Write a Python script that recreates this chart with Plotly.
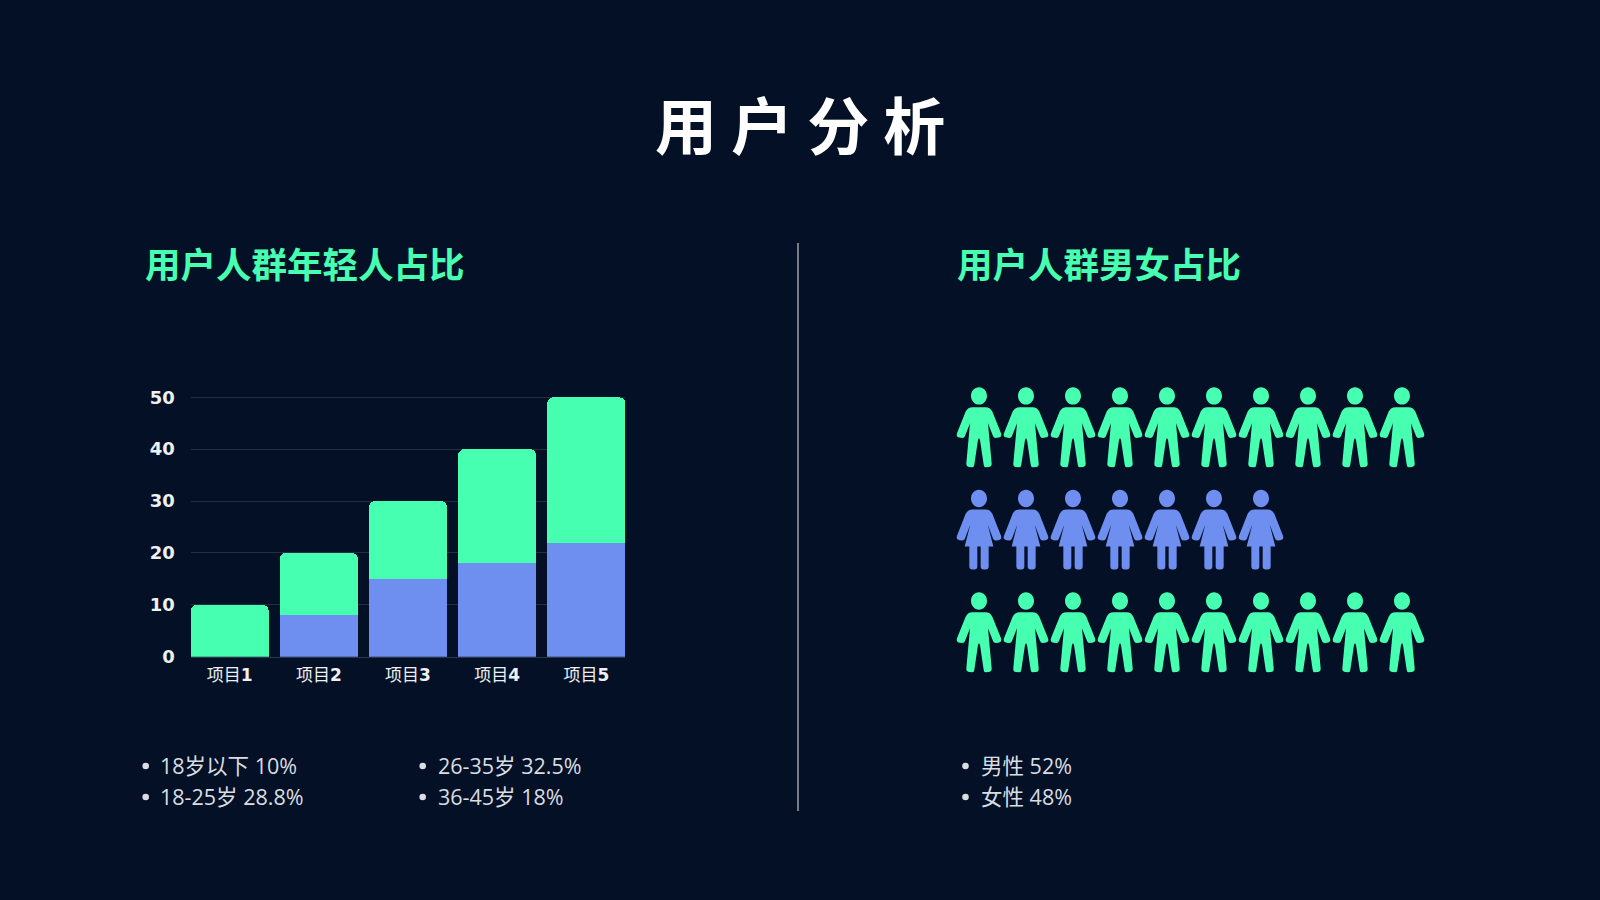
import plotly.graph_objects as go

# ---- data ----
categories = ["项目1", "项目2", "项目3", "项目4", "项目5"]
tick_digits = ["1", "2", "3", "4", "5"]
blue_values = [0, 8, 15, 18, 22]
green_values = [10, 12, 15, 22, 28]
y_ticks = [0, 10, 20, 30, 40, 50]
row_counts = [10, 7, 10]
row_kinds = ["male", "female", "male"]
title_text = "用 户 分 析"
left_heading = "用户人群年轻人占比"
right_heading = "用户人群男女占比"
age_items = ["18岁以下 10%", "18-25岁 28.8%", "26-35岁 32.5%", "36-45岁 18%"]
gender_items = ["男性 52%", "女性 48%"]

BG = "#031025"
GREEN = "#47FFB1"
BLUE = "#6E8FF0"
TEXT = "#DADDE2"
W, H = 1600, 900
CJK = "Noto Sans CJK SC"
LATIN = "Open Sans, Noto Sans CJK SC"


def px(x):
    return x / W


def py(y):
    return 1 - y / H


# ---- pictogram glyphs: half outlines in glyph units (3 units = 1 px) ----
MALE_HALF = [
    (None, (0, 60)), (None, (20, 60)), ((33, 60), (40, 73)), (None, (66, 138)),
    ((70, 150), (58, 151)), (None, (50, 152)), ((44, 152), (42, 146)), (None, (27, 108)),
    (None, (38, 228)), ((39, 238), (30, 239)), (None, (20, 240)), ((15, 240), (14, 232)),
    (None, (3, 158)), ((0, 152), (0, 152)),
]
FEMALE_HALF = [
    (None, (0, 59)), (None, (20, 59)), ((33, 59), (40, 72)), (None, (66, 138)),
    ((70, 150), (58, 151)), (None, (50, 152)), ((44, 152), (42, 146)), (None, (26, 104)),
    (None, (43, 170)), (None, (29, 170)), (None, (29, 230)), ((29, 239), (20, 239)),
    (None, (14, 239)), ((5, 239), (5, 230)), (None, (5, 170)), (None, (0, 170)),
]


def gp(x, y):
    return f"{x / 3:.2f},{(120 - y) / 3:.2f}"


def glyph_path(half):
    d = "M" + gp(*half[0][1])
    for ctrl, pt in half[1:]:
        d += (f" Q{gp(*ctrl)} {gp(*pt)}" if ctrl else f" L{gp(*pt)}")
    for i in range(len(half) - 1, 0, -1):
        ctrl = half[i][0]
        prev = half[i - 1][1]
        m = (-prev[0], prev[1])
        d += (f" Q{gp(-ctrl[0], ctrl[1])} {gp(*m)}" if ctrl else f" L{gp(*m)}")
    d += " Z"
    # head
    rx, ry, cy, k = 24, 26, 26, 0.5523
    d += (f" M{gp(0, cy - ry)}"
          f" C{gp(k * rx, cy - ry)} {gp(rx, cy - k * ry)} {gp(rx, cy)}"
          f" C{gp(rx, cy + k * ry)} {gp(k * rx, cy + ry)} {gp(0, cy + ry)}"
          f" C{gp(-k * rx, cy + ry)} {gp(-rx, cy + k * ry)} {gp(-rx, cy)}"
          f" C{gp(-rx, cy - k * ry)} {gp(-k * rx, cy - ry)} {gp(0, cy - ry)} Z")
    return d


GLYPHS = {"male": (glyph_path(MALE_HALF), GREEN), "female": (glyph_path(FEMALE_HALF), BLUE)}

fig = go.Figure()
fig.add_bar(x=categories, y=blue_values, marker_color=BLUE, marker_line_width=0, hoverinfo="skip")
fig.add_bar(x=categories, y=green_values, marker_color=GREEN, marker_line_width=0, hoverinfo="skip")

# pictogram: anchor trace + glyph shapes located through the hidden axes
pic_x, pic_y = [], []
shapes = []
for r, (n, kind) in enumerate(zip(row_counts, row_kinds)):
    path, col = GLYPHS[kind]
    for c in range(n):
        pic_x.append(c)
        pic_y.append(r)
        shapes.append(dict(type="path", xref="x2", yref="y2", xsizemode="pixel", ysizemode="pixel",
                           xanchor=c, yanchor=r, path=path, fillcolor=col, line_width=0, layer="above"))
fig.add_scatter(x=pic_x, y=pic_y, xaxis="x2", yaxis="y2", mode="markers",
                marker=dict(size=1, opacity=0), hoverinfo="skip")

# divider
shapes.append(dict(type="line", xref="paper", yref="paper", x0=px(798), x1=px(798), y0=py(243), y1=py(811),
                   line=dict(color="#9AA0A8", width=1.5)))


def note(text, x, y, size, color, family, anchor="left", bold=False):
    return dict(text=f"<b>{text}</b>" if bold else text, x=px(x), y=py(y), xref="paper", yref="paper",
                xanchor=anchor, yanchor="middle", showarrow=False, align=anchor,
                font=dict(size=size, color=color, family=family))


annotations = [
    note(title_text, 800, 123, 62, "#FFFFFF", CJK, "center", True),
    note(left_heading, 143, 262, 35.5, GREEN, CJK, bold=True),
    note(right_heading, 955, 262, 35.5, GREEN, CJK, bold=True),
]
item_places = [(145.7, 158, 765), (145.7, 158, 796), (422.7, 436, 765), (422.7, 436, 796)]
for text, (bx, tx, y) in zip(age_items, item_places):
    annotations.append(note(text, tx, y, 21.5, TEXT, LATIN))
    shapes.append(dict(type="circle", xref="paper", yref="paper", xsizemode="pixel", ysizemode="pixel",
                       xanchor=px(bx), yanchor=py(y + 1), x0=-3.3, x1=3.3, y0=-3.3, y1=3.3,
                       fillcolor=TEXT, line_width=0))
for text, (bx, tx, y) in zip(gender_items, [(965.5, 979, 765), (965.5, 979, 796)]):
    annotations.append(note(text, tx, y, 21.5, TEXT, LATIN))
    shapes.append(dict(type="circle", xref="paper", yref="paper", xsizemode="pixel", ysizemode="pixel",
                       xanchor=px(bx), yanchor=py(y + 1), x0=-3.3, x1=3.3, y0=-3.3, y1=3.3,
                       fillcolor=TEXT, line_width=0))

fig.update_layout(
    width=W, height=H, margin=dict(l=0, r=0, t=0, b=0, pad=0, autoexpand=False), paper_bgcolor=BG, plot_bgcolor=BG,
    showlegend=False, barmode="stack", bargap=0.125, barcornerradius=6,
    shapes=shapes, annotations=annotations,
    xaxis=dict(domain=[px(190.7), px(625.3)], range=[-0.4375, 4.4375], tickmode="array",
               tickvals=categories, ticktext=[f"项目<b>{d}</b>" for d in tick_digits],
               tickfont=dict(size=17, color="#EEF0F2", family="DejaVu Sans, Noto Sans CJK SC"),
               showgrid=False, zeroline=False, showline=True, linecolor="#2A3545", linewidth=1, ticks="",
               ticklabelstandoff=3, fixedrange=True, automargin=False),
    yaxis=dict(domain=[py(656.7), py(396.26)], range=[0, 50.2], tickmode="array", tickvals=y_ticks,
               ticktext=[f"<b>{v}</b>" for v in y_ticks],
               tickfont=dict(size=18, color="#EEF0F2", family="DejaVu Sans"),
               showgrid=True, gridcolor="#243040", gridwidth=1, zeroline=False, ticks="", showline=False,
               ticklabelstandoff=15, fixedrange=True, automargin=False),
    xaxis2=dict(domain=[px(955.5), px(1425.5)], range=[-0.5, 9.5], visible=False, anchor="y2", fixedrange=True),
    yaxis2=dict(domain=[py(683.6), py(376)], range=[2.5, -0.5], visible=False, anchor="x2", fixedrange=True),
)

fig.write_html("out.html", config={"displayModeBar": False},
               post_script="document.body.style.margin='0';document.documentElement.style.overflow='hidden';")
